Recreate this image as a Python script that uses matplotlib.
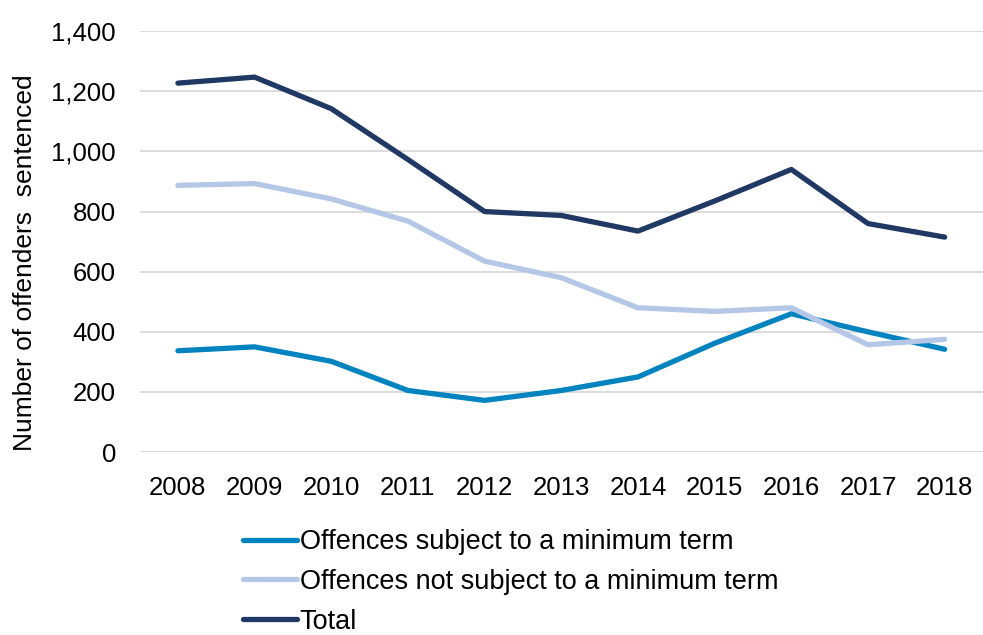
import matplotlib
matplotlib.use("Agg")
import matplotlib.pyplot as plt
from matplotlib.ticker import FuncFormatter

years = ["2008", "2009", "2010", "2011", "2012", "2013", "2014", "2015", "2016", "2017", "2018"]
subject_min = [337, 350, 302, 205, 172, 205, 250, 362, 460, 400, 342]
not_subject_min = [887, 893, 842, 768, 635, 580, 480, 468, 480, 357, 375]
total = [1227, 1247, 1142, 973, 800, 787, 735, 835, 940, 760, 715]

series_labels = ["Offences subject to a minimum term",
                 "Offences not subject to a minimum term",
                 "Total"]
colors = ["#0083BE", "#B4C7E7", "#1F3864"]

plt.rcParams['font.family'] = ['Liberation Sans', 'DejaVu Sans']
FS = 18.5

fig = plt.figure(figsize=(9.83, 6.35), dpi=100)
ax = fig.add_axes([0.142, 0.288, 0.858, 0.663])

x = list(range(len(years)))
for vals, lab, col in zip([subject_min, not_subject_min, total], series_labels, colors):
    ax.plot(x, vals, color=col, linewidth=3.8, label=lab, solid_capstyle='round',
            solid_joinstyle='round')

ax.set_xlim(-0.5, len(years) - 0.5)
ax.set_ylim(0, 1400)
ax.set_yticks(range(0, 1401, 200))
ax.yaxis.set_major_formatter(FuncFormatter(lambda v, p: f"{int(v):,}"))
ax.set_xticks(x)
ax.set_xticklabels(years)
ax.grid(axis='y', color='#D9D9D9', linewidth=1.3)
ax.set_axisbelow(True)
for s in ax.spines.values():
    s.set_visible(False)
ax.tick_params(axis='both', length=0, labelsize=FS, colors='black')
ax.tick_params(axis='x', pad=17)
ax.tick_params(axis='y', pad=17)
ax.set_ylabel("Number of offenders  sentenced", fontsize=19, labelpad=10)
ax.yaxis.label.set_y(0.45)

# legend sits under the plot, no frame
leg = fig.legend(loc='center left', bbox_to_anchor=(0.247, 0.0835),
                 bbox_transform=fig.transFigure, frameon=False,
                 fontsize=19.5, handlelength=2.0, handletextpad=0.1,
                 labelspacing=0.5, borderaxespad=0, borderpad=0)

fig.savefig("out.png", dpi=100)
